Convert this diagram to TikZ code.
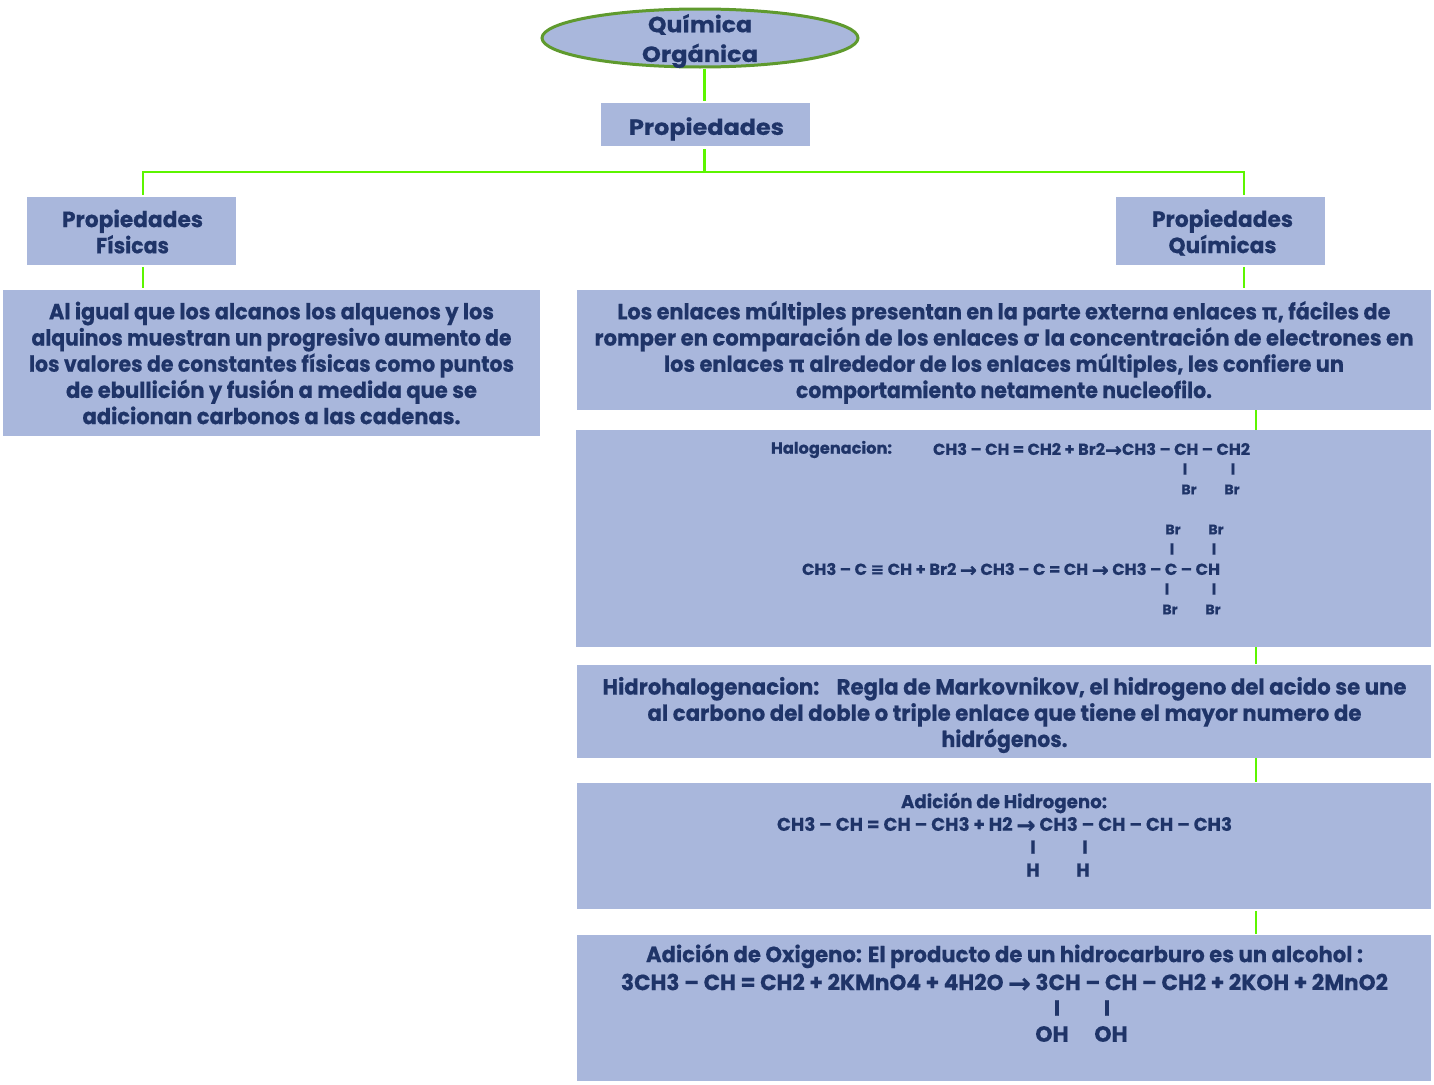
\documentclass[tikz,border=0pt]{standalone}
\usepackage{fontspec}
\usepackage{graphicx}
\usetikzlibrary{shapes.geometric}
\setmainfont{Poppins}[BoldFeatures={FakeBold=0.5}]
\newfontfamily\djf{DejaVu Sans}[BoldFeatures={FakeBold=0.5}]
\newsavebox{\fwbox}
\newcommand{\fw}[2]{\sbox{\fwbox}{#2}\scalebox{\fpeval{#1/\the\wd\fwbox}}[1]{\usebox{\fwbox}}}
\newcommand{\sy}[1]{{\djf #1}}
\newcommand{\ar}{\smash{\raisebox{-0.12em}{\scalebox{1.25}{\djf →}}}}
\definecolor{boxfill}{HTML}{A9B7DC}
\definecolor{ink}{HTML}{1F3468}
\definecolor{lime}{HTML}{5CF500}
\definecolor{rim}{HTML}{5F9A2E}
\tikzset{
  panel/.style={fill=boxfill,draw=none,inner sep=0pt},
  big/.style={font=\fontsize{22}{26.2}\selectfont\bfseries},
  mid/.style={font=\fontsize{18.5}{23}\selectfont\bfseries},
  small/.style={font=\fontsize{16}{20}\selectfont\bfseries},
  tiny/.style={font=\fontsize{14}{16}\selectfont\bfseries},
  txt/.style={inner sep=0pt,text=ink,align=center},
  conn/.style={draw=lime,line width=2.2pt},
}
\begin{document}
\begin{tikzpicture}[x=1pt,y=-1pt]
\useasboundingbox (0,0) rectangle (1434,1084);
\node[panel,ellipse,draw=rim,line width=3pt,minimum width=316pt,minimum height=58pt] (root) at (700,38) {};
\node[txt,big] (roott) at (700,41) {\fw{104}{Química}\\[3.5pt]\fw{116}{Orgánica}};
\node[panel,minimum width=209pt,minimum height=43pt] (prop) at (705.5,124.5) {};
\node[txt,big] (propt) at (706.5,129) {\fw{155}{Propiedades}};
\node[panel,minimum width=209pt,minimum height=68pt] (fis) at (131.5,231) {};
\node[txt,big] (fist) at (132.5,231.5) {\fw{141}{Propiedades}\\\fw{73}{Físicas}};
\node[panel,minimum width=209pt,minimum height=68pt] (qui) at (1220.5,231) {};
\node[txt,big] (quit) at (1222.5,232.5) {\fw{141}{Propiedades}\\\fw{108}{Químicas}};
\node[panel,minimum width=537pt,minimum height=146pt] (fistext) at (271.5,363) {};
\node[txt,big] (fistextt) at (271.5,363) {\fw{445}{Al igual que los alcanos los alquenos y los}\\\fw{480}{alquinos muestran un progresivo aumento de}\\\fw{485}{los valores de constantes físicas como puntos}\\\fw{411}{de ebullición y fusión a medida que se}\\\fw{378}{adicionan carbonos a las cadenas.}};
\node[panel,minimum width=854pt,minimum height=120pt] (enl) at (1004,350) {};
\node[txt,big] (enlt) at (1004,352.5) {\fw{773}{Los enlaces múltiples presentan en la parte externa enlaces \sy{π}, fáciles de}\\\fw{819}{romper en comparación de los enlaces \sy{σ} la concentración de electrones en}\\\fw{680}{los enlaces \sy{π} alrededor de los enlaces múltiples, les confiere un}\\\fw{416}{comportamiento netamente nucleofilo.}};
\node[panel,minimum width=855pt,minimum height=217pt] (halo) at (1003.5,538.5) {};
\node[panel,minimum width=854pt,minimum height=93pt] (hidro) at (1004,711.5) {};
\node[txt,big] (hidrot) at (1004.5,715) {\fw{804}{Hidrohalogenacion:\hspace{18pt}Regla de Markovnikov, el hidrogeno del acido se une}\\\fw{714}{al carbono del doble o triple enlace que tiene el mayor numero de}\\\fw{126}{hidrógenos.}};
\node[panel,minimum width=854pt,minimum height=126pt] (hidrog) at (1004,846) {};
\node[panel,minimum width=854pt,minimum height=146pt] (oxi) at (1004,1008) {};
% halogenation text
\node[txt,small] (h1) at (831.5,449.5) {\fw{121}{Halogenacion:}};
\node[txt,small] (h2) at (1091.5,449) {\fw{317}{CH3 – CH = CH2 + Br2\ar CH3 – CH – CH2}};
\node[txt,small] (b1) at (1185,469) {I};
\node[txt,small] (b2) at (1233,469) {I};
\node[txt,tiny] (b3) at (1189,489.5) {Br};
\node[txt,tiny] (b4) at (1232,489.5) {Br};
\node[txt,tiny] (b5) at (1173,529.5) {Br};
\node[txt,tiny] (b6) at (1216,529.5) {Br};
\node[txt,small] (b7) at (1172,549) {I};
\node[txt,small] (b8) at (1214,549) {I};
\node[txt,small] (h3) at (1011,569) {\fw{418}{CH3 – C \sy{≡} CH + Br2 \ar{} CH3 – C = CH \ar{} CH3 – C – CH}};
\node[txt,small] (b9) at (1167,589) {I};
\node[txt,small] (b10) at (1214,589) {I};
\node[txt,tiny] (b11) at (1170,609.5) {Br};
\node[txt,tiny] (b12) at (1213,609.5) {Br};
% hydrogen text
\node[txt,mid] (a1) at (1004,803) {\fw{206}{Adición de Hidrogeno:}};
\node[txt,mid] (a2) at (1004.5,824) {\fw{455}{CH3 – CH = CH – CH3 + H2 \ar{} CH3 – CH – CH – CH3}};
\node[txt,mid] (a3) at (1033,847) {I};
\node[txt,mid] (a4) at (1085,847) {I};
\node[txt,mid] (a5) at (1033,870) {H};
\node[txt,mid] (a6) at (1083,870) {H};
% oxygen text
\node[txt,big] (o1) at (1004.5,956) {\fw{717}{Adición de Oxigeno: El producto de un hidrocarburo es un alcohol :}};
\node[txt,big] (o2) at (1004.5,982) {\fw{767}{3CH3 – CH = CH2 + 2KMnO4 + 4H2O \ar{} 3CH – CH – CH2 + 2KOH + 2MnO2}};
\node[txt,big] (o3) at (1057,1008) {I};
\node[txt,big] (o4) at (1107,1008) {I};
\node[txt,big] (o5) at (1052,1034) {OH};
\node[txt,big] (o6) at (1111,1034) {OH};
% connectors
\coordinate (trunk) at (704.5,172);
\coordinate (tl) at (143,172);
\coordinate (tr) at (1244,172);
\draw[conn] (root.south -| trunk) -- ([yshift=2pt]prop.north -| trunk);
\draw[conn] ([yshift=-3pt]prop.south -| trunk) -- (trunk);
\draw[conn] ([yshift=2pt]fis.north -| tl) -- (tl) -- (tr) -- ([yshift=2pt]qui.north -| tr);
\draw[conn] ([yshift=-2pt]fis.south -| tl) -- ([yshift=2pt]fistext.north -| tl);
\draw[conn] ([yshift=-2pt]qui.south -| tr) -- ([yshift=2pt]enl.north -| tr);
\coordinate (sp) at (1256,0);
\draw[conn] (enl.south -| sp) -- (halo.north -| sp);
\draw[conn] (halo.south -| sp) -- ([yshift=1pt]hidro.north -| sp);
\draw[conn] (hidro.south -| sp) -- ([yshift=1pt]hidrog.north -| sp);
\draw[conn] ([yshift=-2pt]hidrog.south -| sp) -- ([yshift=1pt]oxi.north -| sp);
\end{tikzpicture}
\end{document}
